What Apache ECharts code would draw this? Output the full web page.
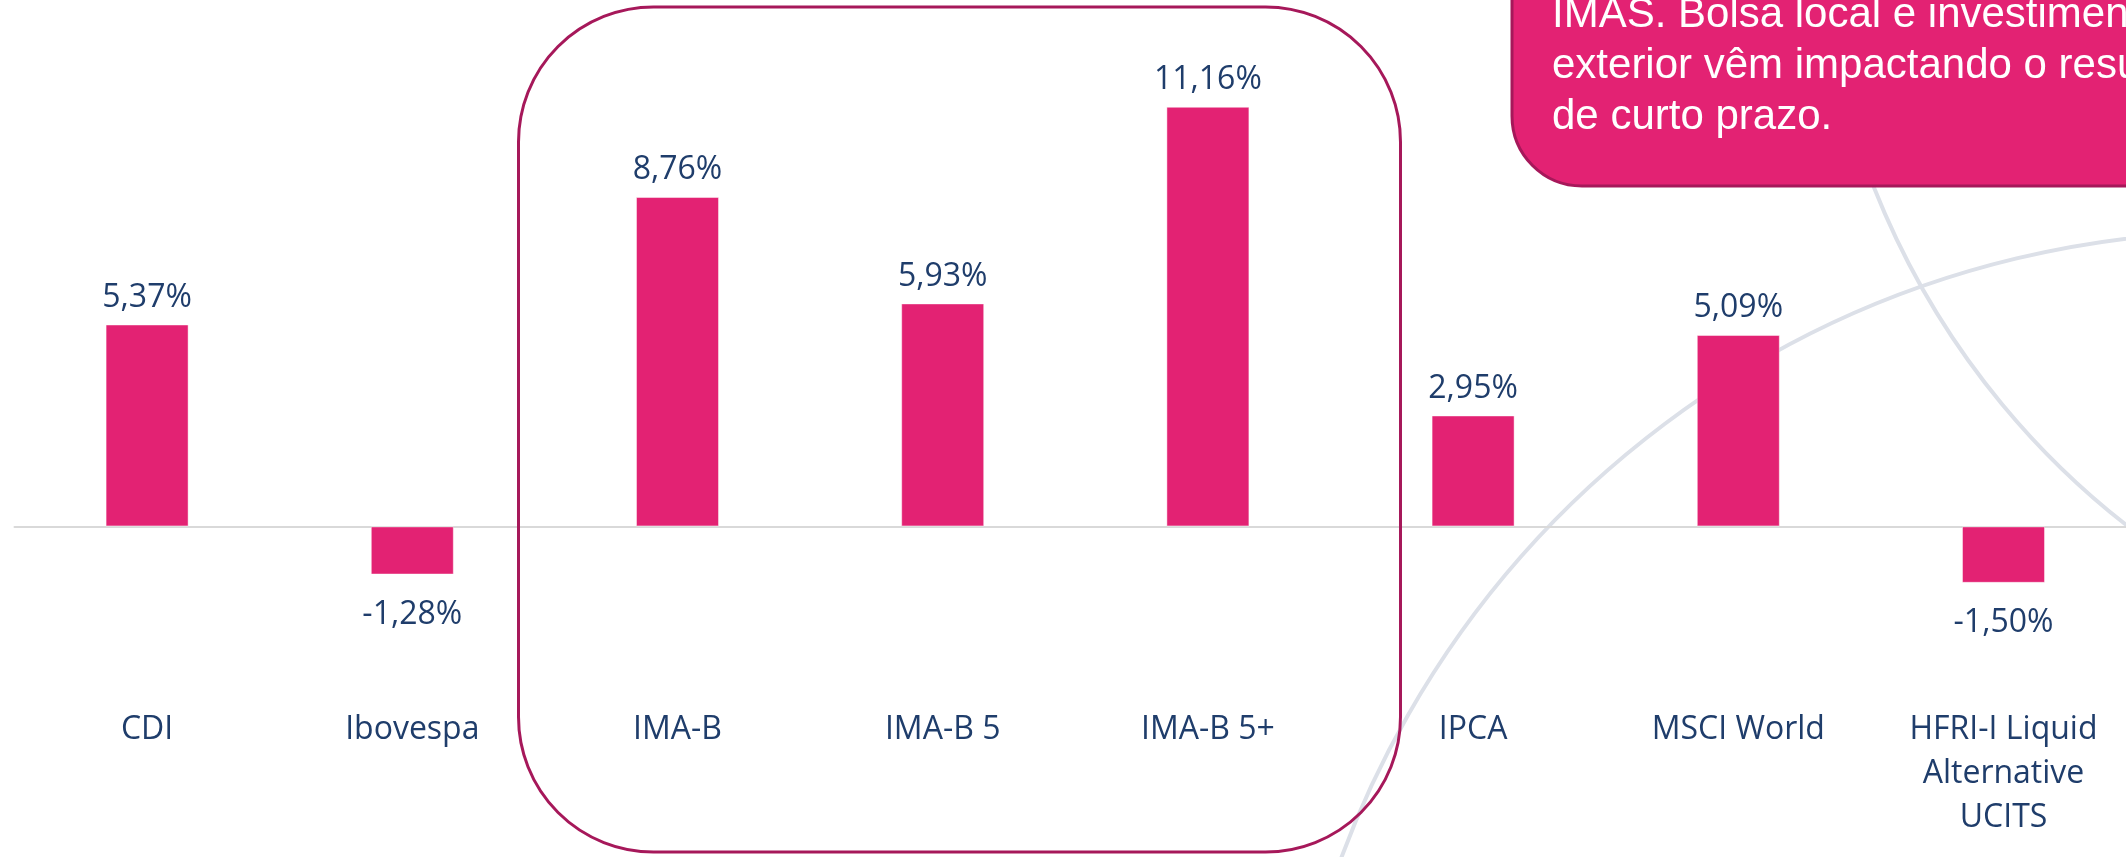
<!DOCTYPE html>
<html>
<head>
<meta charset="utf-8">
<script src="https://cdn.jsdelivr.net/npm/echarts@6/dist/echarts.min.js"></script>
<style>
html,body{margin:0;padding:0;background:#fff;}
#chart{width:2126px;height:857px;}
</style>
</head>
<body>
<div id="chart"></div>
<script>
const categories = ['CDI', 'Ibovespa', 'IMA-B', 'IMA-B 5', 'IMA-B 5+', 'IPCA', 'MSCI World', 'HFRI-I Liquid\nAlternative\nUCITS'];
const values = [5.37, -1.28, 8.76, 5.93, 11.16, 2.95, 5.09, -1.50];
const noteLines = ['IMAS. Bolsa local e investimentos no', 'exterior vêm impactando o resultado', 'de curto prazo.'];

const TEXT = '#1F3D6B';
const PINK = '#E32273';
const DARK = '#A6185A';

const chart = echarts.init(document.getElementById('chart'), null, {renderer: 'canvas'});

const seriesData = values.map(v => ({
  value: v,
  label: { position: v < 0 ? 'bottom' : 'top', distance: v < 0 ? 20 : 7 }
}));

chart.setOption({
  animation: false,
  backgroundColor: '#ffffff',
  grid: { left: 14.5, top: 0, width: 2121.6, height: 601.6, containLabel: false, outerBoundsMode: 'none' },
  xAxis: {
    type: 'category',
    data: categories,
    axisLine: { show: true, onZero: true, lineStyle: { color: '#D9D9D9', width: 2 } },
    axisTick: { show: false },
    axisLabel: {
      interval: 0,
      margin: 106,
      color: TEXT,
      fontFamily: 'Open Sans',
      fontSize: 32,
      lineHeight: 44,
      align: 'center'
    },
    splitLine: { show: false }
  },
  yAxis: {
    type: 'value',
    min: -2,
    max: 14,
    show: false,
    splitLine: { show: false }
  },
  series: [{
    type: 'bar',
    data: seriesData,
    barWidth: 83,
    itemStyle: { color: PINK, borderColor: 'rgba(255,255,255,0.45)', borderWidth: 1 },
    label: {
      show: true,
      color: TEXT,
      fontFamily: 'Open Sans',
      fontSize: 32,
      lineHeight: 40,
      formatter: p => p.value.toFixed(2).replace('.', ',') + '%'
    }
  }],
  graphic: {
    elements: [
      {
        type: 'arc', z: 0, silent: true,
        shape: { cx: 2240, cy: 1190, r: 958, startAngle: -3.0, endAngle: -1.3, clockwise: true },
        style: { stroke: '#DCE0E8', lineWidth: 4, fill: 'none' }
      },
      {
        type: 'arc', z: 0, silent: true,
        shape: { cx: 2620, cy: -107, r: 802, startAngle: 1.9, endAngle: 3.0, clockwise: true },
        style: { stroke: '#DCE0E8', lineWidth: 4, fill: 'none' }
      },
      {
        type: 'rect', z: 100, silent: true,
        shape: { x: 518.5, y: 7, width: 882, height: 845, r: 135 },
        style: { stroke: DARK, lineWidth: 3, fill: 'none' }
      },
      {
        type: 'rect', z: 100, silent: true,
        shape: { x: 1512, y: -120, width: 800, height: 306, r: 70 },
        style: { stroke: DARK, lineWidth: 3, fill: PINK }
      },
      {
        type: 'text', z: 101, silent: true,
        x: 1552, y: -10,
        style: {
          text: noteLines.join('\n'),
          font: '42px "Liberation Sans", Arial, sans-serif',
          lineHeight: 51,
          fill: '#ffffff',
          verticalAlign: 'top',
          align: 'left'
        }
      }
    ]
  }
});
</script>
</body>
</html>
